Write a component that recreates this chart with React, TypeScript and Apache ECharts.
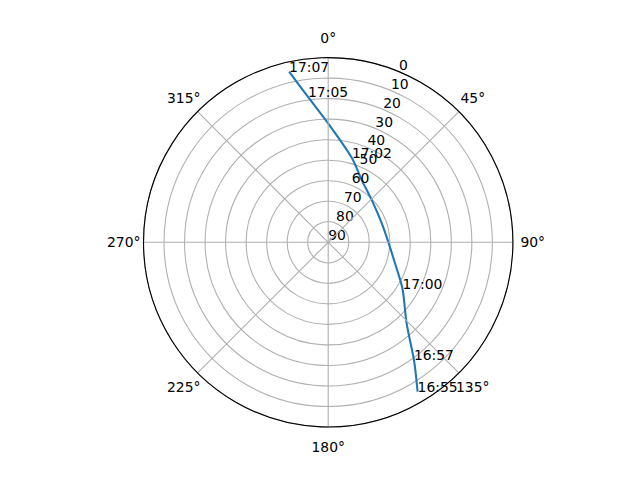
import React, { useEffect, useRef } from 'react';
import * as echarts from 'echarts';

// Satellite pass trace (azimuth in degrees, elevation in degrees)
const traceAzimuth = [149.1, 146.8, 143.9, 135.9, 121.9, 107.4, 89.9, 70.3, 45.7, 28.2, 15.7, 0.5, 352.1, 347.1];
const traceElevation = [5.2, 11.8, 19.1, 35.1, 47.4, 55.9, 60.7, 62.3, 60.4, 55.5, 47.3, 32.8, 18.5, 4.7];

// Time annotations along the pass
const timeLabels = ['16:55', '16:57', '17:00', '17:02', '17:05', '17:07'];
const timeAzimuth = [149.1, 143.9, 121.9, 15.7, 352.1, 347.1];
const timeElevation = [5.2, 19.1, 47.4, 47.3, 18.5, 4.7];

// Axis ticks
const angleTickStep = 45;
const radialTickStep = 10;
const radialMax = 90;

const FONT = 'DejaVu Sans';
const FS = 13.9;
const CENTER = [328.2, 242.3];
const RADIUS = 184.7;

// padding per angle label so the label centres sit on a circle (like matplotlib)
const anglePads: Record<string, number[]> = {
  a0: [0, 0, 16.85, 0],
  a45: [0, 0, 9.85, 4.5],
  a90: [0, 0, 0, 11.5],
  a135: [9.85, 0, 0, 0],
  a180: [16.85, 0, 0, 0],
  a225: [9.85, 0, 0, 0],
  a270: [0, 7.05, 0, 0],
  a315: [0, 0, 9.85, 0],
};

export default function App() {
  const ref = useRef<HTMLDivElement>(null);
  useEffect(() => {
    if (!ref.current) return;
    const chart = echarts.init(ref.current, null, { renderer: 'svg' });
    const rich: Record<string, any> = {};
    Object.keys(anglePads).forEach((k) => {
      rich[k] = { padding: anglePads[k], fontFamily: FONT, fontSize: FS, color: '#000' };
    });
    chart.setOption({
      animation: false,
      backgroundColor: '#ffffff',
      polar: [
        { center: CENTER, radius: RADIUS },
        { center: CENTER, radius: RADIUS },
      ],
      angleAxis: [
        {
          polarIndex: 0,
          type: 'value',
          min: 0,
          max: 360,
          interval: angleTickStep,
          startAngle: 90,
          clockwise: true,
          z: 5,
          axisLine: { show: true, lineStyle: { color: '#000', width: 1.1 } },
          axisTick: { show: false },
          splitLine: { show: true, lineStyle: { color: '#b0b0b0', width: 1.1 } },
          axisLabel: {
            show: true,
            margin: -4,
            fontFamily: FONT,
            fontSize: FS,
            color: '#000',
            rich,
            formatter: (v: number) => (v >= 360 ? '' : `{a${v}|${v}°}`),
          },
        },
        {
          polarIndex: 1,
          type: 'value',
          min: 0,
          max: 360,
          startAngle: 67.5,
          clockwise: true,
          axisLine: { show: false },
          axisTick: { show: false },
          splitLine: { show: false },
          axisLabel: { show: false },
        },
      ],
      radiusAxis: [
        {
          polarIndex: 0,
          type: 'value',
          min: 0,
          max: radialMax,
          interval: radialTickStep,
          inverse: true,
          z: 2,
          axisLine: { show: false },
          axisTick: { show: false },
          axisLabel: { show: false },
          splitLine: { show: true, lineStyle: { color: '#b0b0b0', width: 1.1 } },
        },
        {
          polarIndex: 1,
          type: 'value',
          min: 0,
          max: radialMax,
          interval: radialTickStep,
          inverse: true,
          z: 4,
          axisLine: { show: false },
          axisTick: { show: false },
          splitLine: { show: false },
          axisLabel: {
            show: true,
            margin: 0,
            align: 'left',
            verticalAlign: 'bottom',
            showMinLabel: true,
            showMaxLabel: true,
            hideOverlap: false,
            fontFamily: FONT,
            fontSize: FS,
            color: '#000',
          },
        },
      ],
      series: [
        {
          type: 'line',
          coordinateSystem: 'polar',
          polarIndex: 0,
          data: traceElevation.map((e, i) => [e, traceAzimuth[i]]),
          showSymbol: false,
          symbol: 'none',
          smooth: 0.3,
          lineStyle: { color: '#1f77b4', width: 2.08 },
          z: 3,
          silent: true,
        },
        {
          type: 'scatter',
          coordinateSystem: 'polar',
          polarIndex: 0,
          symbolSize: 0,
          silent: true,
          z: 6,
          itemStyle: { opacity: 1, color: '#000' },
          data: timeLabels.map((t, i) => ({ name: t, value: [timeElevation[i], timeAzimuth[i]] })),
          label: {
            show: true,
            formatter: '{b}',
            position: [0, 0],
            align: 'left',
            verticalAlign: 'bottom',
            offset: [0, 2.5],
            fontFamily: FONT,
            fontSize: FS,
            color: '#000',
            opacity: 1,
          },
        },
      ],
    });
    return () => chart.dispose();
  }, []);
  return (
    <div
      ref={ref}
      style={{ position: 'absolute', left: 0, top: 0, width: 640, height: 480, background: '#fff' }}
    />
  );
}
